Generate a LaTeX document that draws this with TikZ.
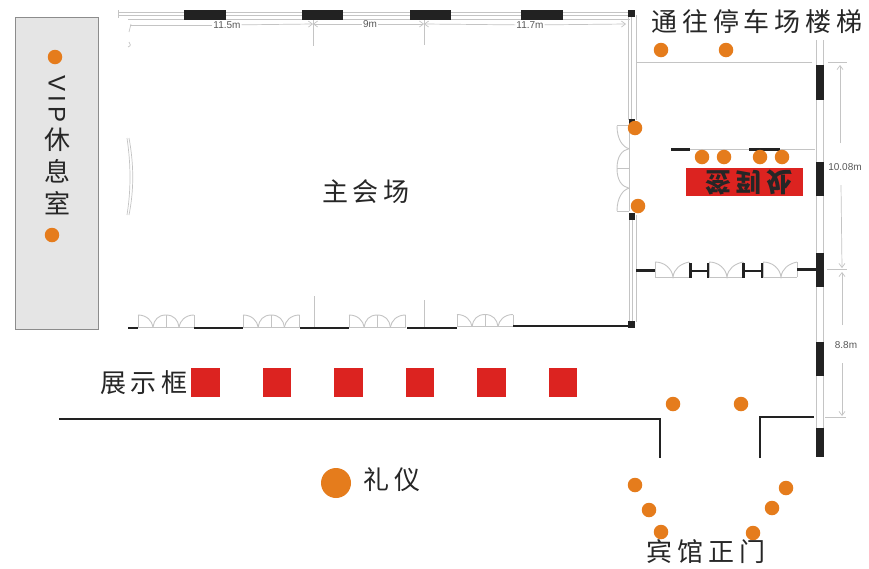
\documentclass[tikz,border=0pt]{standalone}
\usepackage{fontspec}
\setmainfont{Liberation Sans}
\newfontfamily\cjk[LetterSpace=19]{Noto Sans CJK SC}
\newfontfamily\cjktight{Noto Sans CJK SC}
\usetikzlibrary{arrows.meta}
\definecolor{dotc}{HTML}{E57C1C}
\definecolor{redc}{HTML}{DC2320}
\definecolor{wallc}{HTML}{222222}
\definecolor{thinc}{HTML}{C4C4C4}
\tikzset{
  thin wall/.style={draw=thinc,line width=0.9pt},
  wall/.style={draw=wallc,line width=2.3pt},
  pillar/.style={fill=wallc,draw=none},
  dim/.style={draw=thinc,line width=0.7pt},
  dimtip/.style={draw=thinc,line width=0.7pt,-{Straight Barb[length=4pt,width=6pt]}},
  dimtext/.style={text=black!65,font=\fontsize{10}{12}\selectfont,inner sep=1pt},
  label/.style={text=black!85,font=\cjk\fontsize{26}{28}\selectfont,inner sep=0pt},
  dot/.style={circle,fill=dotc,draw=none,minimum size=14.5pt,inner sep=0pt},
  redbox/.style={fill=redc,draw=none}
}
\newcommand{\ddoor}[4]{% x, y, rotation, xscale
  \begin{scope}[shift={(#1,#2)},rotate=#3,xscale=#4]
    \draw[thin wall] (0,0)--(56,0) (0,0)--(0,-12) (56,0)--(56,-12) (28,0)--(28,-12);
    \draw[thin wall] (0,-12) .. controls (9,-12) and (14,-6) .. (15,0);
    \draw[thin wall] (15,0) .. controls (16,-7) and (20,-12) .. (28,-12) .. controls (36,-12) and (40,-7) .. (41,0);
    \draw[thin wall] (41,0) .. controls (42,-6) and (47,-12) .. (56,-12);
  \end{scope}}
\newcommand{\sdoor}[2]{% x, y
  \begin{scope}[shift={(#1,#2)}]
    \draw[thin wall] (0,0)--(34,0) (0,0)--(0,-15) (34,0)--(34,-15);
    \draw[thin wall] (0,-15) .. controls (10,-15) and (17,-8) .. (18,0) .. controls (19,-8) and (25,-13) .. (34,-15);
  \end{scope}}
\begin{document}
\begin{tikzpicture}[x=1pt,y=-1pt]
\useasboundingbox[fill=white] (0,0) rectangle (869,568);
% VIP room
\draw[fill=black!10,draw=black!45,line width=0.6pt] (15,17) rectangle (98,329);
\draw[draw=black!45,line width=1pt] (59,329.5)--(75,329.5);
\node[text=black!85,font=\fontsize{24}{26}\selectfont,rotate=-90,inner sep=0pt] (vip) at (57,99) {V\,I\,P};
\node[label,font=\cjktight\fontsize{26}{28}\selectfont] (xiu) at (57,140) {休};
\node[label,font=\cjktight\fontsize{26}{28}\selectfont] (xi) at (57,171) {息};
\node[label,font=\cjktight\fontsize{26}{28}\selectfont] (shi) at (57,203) {室};
% top wall
\draw[thin wall] (118,12.5)--(630,12.5) (118,15)--(630,15) (128,19)--(630,19);
\draw[thin wall] (118,10)--(118,18);
\foreach \a/\b in {184/226,302/343,410/451,521/563} \fill[pillar] (\a,10) rectangle (\b,20);
% inner vertical wall
\draw[thin wall] (628,15)--(628,120) (631,15)--(631,120) (636,15)--(636,120);
\draw[thin wall] (629,215)--(629,322) (632,215)--(632,322) (636,215)--(636,322);
\fill[pillar] (628,10) rectangle (635,17);
\fill[pillar] (629,119) rectangle (635,126);
\fill[pillar] (629,213) rectangle (635,220);
\fill[pillar] (628,321) rectangle (635,328);
% outer right wall
\draw[thin wall] (816,40)--(816,430) (823,40)--(823,430);
\foreach \a/\b in {65/100,162/196,253/287,342/376,428/457} \fill[pillar] (815.5,\a) rectangle (823.5,\b);
\draw[thin wall] (636,62)--(812,62);
% small marks
\draw[dim] (131,24)--(129,32);
\draw[dim] (129,42) .. controls (131,44) and (131,46) .. (128,47);
\draw[dim] (127,138) .. controls (131,165) and (131,190) .. (127,215);
\draw[dim] (129,138) .. controls (134,165) and (134,190) .. (129,215);
% dimensions top
\node[dimtext] (d1) at (227,25) {11.5m};
\node[dimtext] (d2) at (370,24) {9m};
\node[dimtext] (d3) at (530,25) {11.7m};
\coordinate (t0) at (130,25);
\coordinate (t1) at (313,24);
\coordinate (t2) at (424,24);
\coordinate (t3) at (626,24);
\draw[dim] (t0)--(d1);
\draw[dimtip] (d1)--(t1);
\draw[dimtip] (d2)--(t1);
\draw[dimtip] (d2)--(t2);
\draw[dimtip] (d3)--(t2);
\draw[dimtip] (d3)--(t3);
\draw[dim] (313,20)--(313,46) (424,20)--(424,45);
% dimensions right
\node[dimtext] (d4) at (845,167) {10.08m};
\node[dimtext] (d5) at (846,345) {8.8m};
\coordinate (r0) at (840,65);
\coordinate (r1) at (842,268);
\coordinate (r1b) at (842,272);
\coordinate (r2) at (842,416);
\draw[dim] (828,62)--(847,62) (827,269.5)--(847,269.5) (825,417)--(846,417);
\draw[dimtip] (840,143)--(r0);
\draw[dimtip] (841,185)--(r1);
\draw[dimtip] (842,325)--(r1b);
\draw[dimtip] (842,363)--(r2);
% main hall doors
\ddoor{138}{327}{0}{1}
\ddoor{243}{327}{0}{1.01}
\ddoor{349}{327}{0}{1.01}
\ddoor{457}{326.5}{0}{1}
\ddoor{629}{211}{90}{1.52}
\draw[thin wall] (314,296)--(314,327) (424,300)--(424,327);
\draw[wall] (128,328)--(138,328) (194,328)--(243,328) (300,328)--(349,328) (407,328)--(457,328) (513,326)--(632,326);
% lower-room doors
\sdoor{655}{277}
\sdoor{709}{277}
\sdoor{763}{277}
\draw[wall] (636,270.5)--(655,270.5) (690.5,271)--(708,271) (743.5,271)--(762,271) (797,269.5)--(816,269.5);
\draw[wall] (690.5,263)--(690.5,277.5) (708,263)--(708,277.5) (743.5,263)--(743.5,277.5) (762,263)--(762,277.5);
% sign-in counter
\draw[thin wall] (671,149)--(815,149);
\draw[wall] (671,149.5)--(690,149.5) (749,149.5)--(780,149.5);
\fill[redbox] (686,168) rectangle (803,196);
\node[inner sep=0pt,text=black!85] (sign) at (749,182) {\scalebox{1}[-1]{\cjk\bfseries\fontsize{26}{28}\selectfont 签到处}};
% corridor walls
\draw[wall] (59,419)--(660,419)--(660,458);
\draw[wall] (760,458)--(760,417)--(814,417);
% display boxes
\foreach \a in {191,262.5,334,405.5,477,548.5} \fill[redbox] (\a,368) rectangle ++(28.5,29);
% dots
\node[dot] (p1) at (55,57) {};
\node[dot] (p2) at (52,235) {};
\node[dot] (p3) at (661,50) {};
\node[dot] (p4) at (726,50) {};
\node[dot] (p5) at (635,128) {};
\node[dot] (p6) at (638,206) {};
\node[dot] (p7) at (702,157) {};
\node[dot] (p8) at (724,157) {};
\node[dot] (p9) at (760,157) {};
\node[dot] (p10) at (782,157) {};
\node[dot] (p11) at (673,404) {};
\node[dot] (p12) at (741,404) {};
\node[dot] (p13) at (635,485) {};
\node[dot] (p14) at (649,510) {};
\node[dot] (p15) at (661,532) {};
\node[dot] (p16) at (786,488) {};
\node[dot] (p17) at (772,508) {};
\node[dot] (p18) at (753,533) {};
\node[dot,minimum size=30pt] (p19) at (336,483) {};
% labels
\node[label] (stairs) at (757,22) {通往停车场楼梯};
\node[label] (hall) at (366,192) {主会场};
\node[label] (show) at (144,383) {展示框};
\node[label] (liyi) at (392,480) {礼仪};
\node[label] (gate) at (706,552) {宾馆正门};
\end{tikzpicture}
\end{document}
